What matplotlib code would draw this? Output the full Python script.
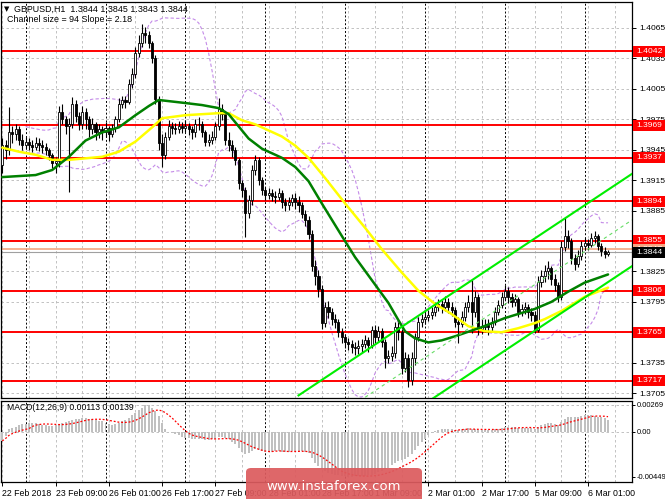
import numpy as np
import pandas as pd
import matplotlib
matplotlib.use("Agg")
import matplotlib.pyplot as plt
from matplotlib.patches import Rectangle, FancyBboxPatch
import matplotlib.transforms as mtransforms

# ---------------- data ----------------
first_open = 1.3930
closes = [
 1.3950,1.3945,1.3962,1.3960,1.3965,1.3955,1.3950,1.3953,1.3950,1.3948,
 1.3952,1.3950,1.3948,1.3945,1.3940,1.3932,1.3934,1.3982,1.3975,1.3968,
 1.3970,1.3990,1.3978,1.3970,1.3982,1.3975,1.3965,1.3970,1.3962,1.3965,
 1.3962,1.3966,1.3960,1.3966,1.3975,1.3990,1.3994,1.3992,1.4010,1.4020,
 1.4040,1.4050,1.4060,1.4058,1.4050,1.4035,1.3995,1.3952,1.3940,1.3958,
 1.3968,1.3966,1.3965,1.3968,1.3966,1.3968,1.3965,1.3962,1.3970,1.3970,
 1.3962,1.3953,1.3955,1.3958,1.3968,1.3985,1.3980,1.3955,1.3950,1.3945,
 1.3935,1.3912,1.3905,1.3883,1.3895,1.3925,1.3935,1.3915,1.3905,1.3900,
 1.3902,1.3899,1.3898,1.3902,1.3893,1.3890,1.3893,1.3897,1.3893,1.3890,
 1.3882,1.3876,1.3862,1.3830,1.3820,1.3808,1.3774,1.3790,1.3785,1.3778,
 1.3775,1.3765,1.3760,1.3755,1.3753,1.3750,1.3749,1.3751,1.3753,1.3757,
 1.3752,1.3767,1.3760,1.3766,1.3755,1.3740,1.3742,1.3745,1.3770,1.3765,
 1.3730,1.3740,1.3718,1.3740,1.3760,1.3775,1.3778,1.3780,1.3782,1.3785,
 1.3790,1.3793,1.3790,1.3795,1.3790,1.3787,1.3775,1.3773,1.3780,1.3790,
 1.3795,1.3785,1.3800,1.3768,1.3770,1.3772,1.3770,1.3775,1.3785,1.3792,
 1.3800,1.3806,1.3800,1.3795,1.3798,1.3785,1.3788,1.3790,1.3785,1.3782,
 1.3767,1.3815,1.3820,1.3825,1.3828,1.3818,1.3812,1.3800,1.3849,1.3860,
 1.3855,1.3838,1.3832,1.3840,1.3850,1.3853,1.3851,1.3858,1.3860,1.3850,
 1.3845,1.3842,1.3844]
highs = [
 1.3957,1.3955,1.3987,1.3968,1.3970,1.3968,1.3960,1.3958,1.3957,1.3955,
 1.3958,1.3957,1.3955,1.3952,1.3947,1.3942,1.3938,1.3988,1.3990,1.3978,
 1.3976,1.3997,1.3994,1.3982,1.3988,1.3986,1.3978,1.3976,1.3972,1.3970,
 1.3968,1.3972,1.3968,1.3970,1.3978,1.3996,1.3998,1.3998,1.4015,1.4026,
 1.4046,1.4058,1.4069,1.4066,1.4062,1.4052,1.4038,1.3998,1.3960,1.3962,
 1.3974,1.3972,1.3971,1.3973,1.3972,1.3974,1.3971,1.3968,1.3975,1.3977,
 1.3973,1.3964,1.3960,1.3963,1.3972,1.3996,1.3990,1.3982,1.3962,1.3955,
 1.3948,1.3937,1.3915,1.3908,1.3900,1.3930,1.3940,1.3938,1.3918,1.3908,
 1.3907,1.3906,1.3904,1.3907,1.3905,1.3897,1.3898,1.3901,1.3902,1.3899,
 1.3893,1.3886,1.3880,1.3866,1.3836,1.3826,1.3812,1.3795,1.3796,1.3789,
 1.3783,1.3778,1.3769,1.3763,1.3759,1.3757,1.3755,1.3757,1.3758,1.3762,
 1.3760,1.3771,1.3772,1.3771,1.3769,1.3758,1.3748,1.3751,1.3775,1.3775,
 1.3768,1.3746,1.3744,1.3746,1.3764,1.3780,1.3783,1.3786,1.3787,1.3790,
 1.3795,1.3798,1.3797,1.3801,1.3799,1.3795,1.3790,1.3780,1.3786,1.3795,
 1.3802,1.3817,1.3806,1.3803,1.3778,1.3778,1.3778,1.3780,1.3790,1.3797,
 1.3805,1.3812,1.3810,1.3804,1.3803,1.3800,1.3793,1.3795,1.3793,1.3789,
 1.3786,1.3820,1.3826,1.3831,1.3835,1.3830,1.3822,1.3815,1.3855,1.3878,
 1.3866,1.3858,1.3842,1.3846,1.3855,1.3858,1.3857,1.3863,1.3865,1.3862,
 1.3853,1.3849,1.3846]
lows = [
 1.3922,1.3936,1.3940,1.3952,1.3955,1.3950,1.3945,1.3946,1.3945,1.3943,
 1.3945,1.3944,1.3942,1.3940,1.3935,1.3927,1.3922,1.3928,1.3970,1.3960,
 1.3903,1.3966,1.3972,1.3964,1.3965,1.3965,1.3958,1.3960,1.3955,1.3957,
 1.3955,1.3958,1.3954,1.3958,1.3962,1.3972,1.3986,1.3986,1.3990,1.4006,
 1.4016,1.4036,1.4046,1.4050,1.4045,1.4030,1.3990,1.3945,1.3928,1.3936,
 1.3955,1.3960,1.3960,1.3961,1.3961,1.3962,1.3959,1.3956,1.3958,1.3964,
 1.3958,1.3949,1.3949,1.3951,1.3955,1.3964,1.3974,1.3950,1.3944,1.3938,
 1.3930,1.3906,1.3898,1.3859,1.3878,1.3890,1.3920,1.3910,1.3900,1.3895,
 1.3896,1.3894,1.3892,1.3895,1.3888,1.3885,1.3886,1.3889,1.3887,1.3884,
 1.3878,1.3870,1.3857,1.3825,1.3812,1.3800,1.3768,1.3770,1.3779,1.3772,
 1.3769,1.3760,1.3754,1.3749,1.3748,1.3745,1.3743,1.3744,1.3746,1.3749,
 1.3746,1.3749,1.3754,1.3756,1.3750,1.3730,1.3735,1.3737,1.3740,1.3757,
 1.3724,1.3726,1.3711,1.3713,1.3733,1.3756,1.3770,1.3773,1.3776,1.3778,
 1.3781,1.3786,1.3784,1.3786,1.3784,1.3781,1.3770,1.3754,1.3770,1.3776,
 1.3785,1.3764,1.3780,1.3762,1.3763,1.3765,1.3762,1.3765,1.3772,1.3782,
 1.3789,1.3797,1.3794,1.3790,1.3791,1.3780,1.3781,1.3783,1.3779,1.3776,
 1.3764,1.3765,1.3810,1.3815,1.3818,1.3812,1.3806,1.3795,1.3797,1.3845,
 1.3848,1.3832,1.3826,1.3829,1.3836,1.3846,1.3846,1.3849,1.3853,1.3846,
 1.3840,1.3838,1.3840]

# moving averages read at selected bars (bar index, price)
green_ma_idx = [0,10,15,20,25,30,35,40,44,47,55,60,65,68,71,74,78,84,88,92,96,
                102,106,112,116,119,121,124,128,132,136,144,151,160,165,170,175,182]
green_ma_val = [1.3918,1.3920,1.3925,1.3938,1.3954,1.3962,1.3967,1.3979,1.3988,1.3994,
                1.3991,1.3989,1.3986,1.3980,1.3968,1.3956,1.3946,1.3937,1.3928,1.3914,
                1.3892,1.3860,1.3839,1.3812,1.3794,1.3777,1.3766,1.3759,1.3755,1.3757,
                1.3761,1.3770,1.3779,1.3788,1.3795,1.3805,1.3814,1.3822]
yellow_ma_idx = [0,5,10,15,20,30,35,40,45,48,55,65,68,72,76,80,84,88,92,97,103,
                 109,114,120,125,130,135,140,145,150,155,160,163,168,175,182]
yellow_ma_val = [1.3947,1.3943,1.3940,1.3935,1.3935,1.3938,1.3943,1.3953,1.3967,1.3976,
                 1.3979,1.3981,1.3981,1.3974,1.3970,1.3964,1.3958,1.3949,1.3937,1.3917,
                 1.3892,1.3868,1.3847,1.3824,1.3806,1.3793,1.3783,1.3771,1.3766,1.3765,
                 1.3769,1.3774,1.3778,1.3786,1.3800,1.3809]

# MACD main (histogram), units of 1e-5
macd_hist = [
 -93,-43,23,33,47,63,73,80,90,90,83,76,70,63,57,57,63,73,90,100,
 106,116,123,130,133,133,130,123,116,110,103,90,73,70,73,90,103,116,136,163,
 189,216,236,262,269,239,206,156,90,23,-3,-17,-27,-37,-50,-60,-66,-70,-70,-70,
 -76,-83,-83,-76,-70,-57,-50,-60,-76,-103,-126,-160,-203,-226,-216,-193,-176,-183,-193,-199,
 -203,-203,-196,-193,-199,-203,-203,-196,-193,-193,-196,-203,-216,-259,-309,-342,-370,-395,-410,-420,
 -430,-438,-444,-447,-449,-449,-448,-446,-443,-440,-437,-432,-422,-408,-390,-372,-359,-336,-316,-293,
 -283,-269,-253,-226,-183,-143,-103,-70,-37,-10,3,13,23,30,30,23,17,13,23,30,
 33,30,23,13,13,17,17,17,23,30,37,43,50,50,47,40,37,33,33,33,
 23,43,63,76,83,83,76,63,96,123,143,150,150,150,156,163,163,163,156,150,
 143,136,113]

levels = [1.4042, 1.3969, 1.3937, 1.3894, 1.3855, 1.3806, 1.3765, 1.3717]
bid_price = 1.3844
ask_price = 1.3847
price_ticks = [1.4065, 1.4035, 1.4005, 1.3975, 1.3945, 1.3915, 1.3885,
               1.3855, 1.3825, 1.3795, 1.3765, 1.3735, 1.3705]
macd_ticks = [0.00269, 0.0, -0.00449]
macd_tick_labels = ["0.00269", "0.00", "-0.00449"]
time_tick_idx = [0, 16, 32, 48, 64, 80, 96, 112, 128, 144, 160, 176]
time_tick_labels = ["22 Feb 2018", "23 Feb 09:00", "26 Feb 01:00", "26 Feb 17:00",
                    "27 Feb 09:00", "28 Feb 01:00", "28 Feb 17:00", "1 Mar 09:00",
                    "2 Mar 01:00", "2 Mar 17:00", "5 Mar 09:00", "6 Mar 01:00"]
day_sep_idx = [7, 31, 55, 79, 103, 127, 151, 175]

channel_bars = 94
channel_slope = 2.18      # pips per bar
channel_mid_last = 1.3860
channel_half = 0.00455

title_text = "GBPUSD,H1  1.3844 1.3845 1.3843 1.3844"
channel_text = "Channel size = 94 Slope = 2.18"
macd_text = "MACD(12,26,9) 0.00113 0.00139"

SMALL = "Liberation Sans"

# ---------------- figure ----------------
W, H = 665, 499
fig = plt.figure(figsize=(W / 100, H / 100), dpi=100)
fig.patch.set_facecolor("white")

def fx(px):
    return px / W

def fy(py):
    return 1 - py / H

ax = fig.add_axes([fx(1), fy(398), fx(632) - fx(1), fy(2) - fy(398)])
axm = fig.add_axes([fx(1), fy(482), fx(632) - fx(1), fy(401) - fy(482)])

n = len(closes)
idx = np.arange(n)
c = np.array(closes)
o = np.concatenate([[first_open], c[:-1]])
hi = np.array(highs)
lo = np.array(lows)
x_max = 189.2

for a in (ax, axm):
    a.set_xlim(-0.4, x_max)
    for s in a.spines.values():
        s.set_color("black")
        s.set_linewidth(0.9)

ax.set_ylim(1.37002, 1.40906)
axm.set_ylim(-0.00504, 0.00306)

# grids
grid_kw = dict(color="#b8b8b8", lw=0.6, ls=(0, (3, 3)), zorder=1)
for a in (ax, axm):
    for gi in range(0, 190, 8):
        a.axvline(gi, **grid_kw)
    for di in day_sep_idx:
        a.axvline(di, color="black", lw=0.7, ls=(0, (2, 2)), zorder=1.2)
for p in price_ticks:
    ax.axhline(p, **grid_kw)
axm.axhline(0.0, **grid_kw)
axm.axhline(0.00269, **grid_kw)

# Bollinger bands from closes
s = pd.Series(c)
bb_mid = s.rolling(20, min_periods=8).mean()
bb_sd = s.rolling(20, min_periods=8).std(ddof=0)
ax.plot(idx, bb_mid + 2 * bb_sd, color="#c48be8", lw=0.8, ls=(0, (3, 2)), zorder=2)
ax.plot(idx, bb_mid - 2 * bb_sd, color="#c48be8", lw=0.8, ls=(0, (3, 2)), zorder=2)

# level lines
for lv in levels:
    ax.axhline(lv, color="#ff0000", lw=1.4, zorder=2.5)
ax.axhline(ask_price, color="#f4a582", lw=1.2, zorder=2.4)
ax.axhline(bid_price, color="#a0a0a0", lw=0.8, zorder=2.4)

# candles
ax.vlines(idx, lo, hi, color="black", lw=0.8, zorder=3)
up = c >= o
body_h = np.maximum(np.abs(c - o), 0.00002)
body_b = np.minimum(o, c)
ax.bar(idx[up], body_h[up], bottom=body_b[up], width=0.62, color="white",
       edgecolor="black", lw=0.6, zorder=3.1)
ax.bar(idx[~up], body_h[~up], bottom=body_b[~up], width=0.62, color="black",
       edgecolor="black", lw=0.6, zorder=3.1)

# moving averages
ax.plot(yellow_ma_idx, yellow_ma_val, color="#ffff00", lw=1.8, zorder=4,
        solid_capstyle="round", solid_joinstyle="round")
ax.plot(green_ma_idx, green_ma_val, color="#008000", lw=1.8, zorder=4.1,
        solid_capstyle="round", solid_joinstyle="round")

# regression channel
last = n - 1
xs = np.array([n - channel_bars, x_max])
mid = channel_mid_last + channel_slope * 0.0001 * (xs - last)
ax.plot(xs, mid + channel_half, color="#00ee00", lw=1.5, zorder=4.5)
ax.plot(xs, mid - channel_half, color="#00ee00", lw=1.5, zorder=4.5)
ax.plot(xs, mid, color="#66dd66", lw=0.8, ls=(0, (3, 3)), zorder=4.5)

# price axis
ax.yaxis.tick_right()
ax.set_yticks(price_ticks)
ax.set_yticklabels(["%.4f" % p for p in price_ticks], family=SMALL)
ax.tick_params(axis="y", length=3, width=0.7, labelsize=6.1, pad=2, colors="black")
ax.set_xticks([])

trans = mtransforms.blended_transform_factory(ax.transAxes, ax.transData)
box_w = 33 / 631
box_h = 11 / 10143
def label_box(price, fc, tc, z):
    ax.add_patch(Rectangle((1.0015, price - box_h / 2), box_w, box_h, transform=trans,
                           facecolor=fc, edgecolor="none", clip_on=False, zorder=z))
    ax.text(1.0015 + 3 / 631, price, "%.4f" % price, transform=trans, color=tc,
            fontsize=6.1, family=SMALL, va="center", ha="left", clip_on=False,
            zorder=z + 0.1)

for lv in levels:
    label_box(lv, "#ff0000", "white", 10)
label_box(ask_price, "#f4a582", "white", 10.5)
label_box(bid_price, "black", "white", 11)

# MACD
axm.bar(idx, np.array(macd_hist) * 1e-5, width=0.6, color="#c0c0c0", zorder=3)
signal = pd.Series(np.array(macd_hist) * 1e-5).rolling(9, min_periods=1).mean()
axm.plot(idx, signal, color="#ff0000", lw=0.9, ls=(0, (1.5, 1.5)), zorder=4)
axm.yaxis.tick_right()
axm.set_yticks(macd_ticks)
axm.set_yticklabels(macd_tick_labels, family=SMALL)
axm.tick_params(axis="y", length=2.5, width=0.7, labelsize=5.4, pad=1)
axm.set_xticks(time_tick_idx)
axm.set_xticklabels(time_tick_labels, ha="left", family=SMALL)
axm.tick_params(axis="x", length=3, width=0.7, labelsize=6.3, pad=2)

# texts
fig.text(fx(4), fy(9), "\u25BC", fontsize=5, va="center", ha="left")
fig.text(fx(14), fy(9), title_text, fontsize=6.4, family=SMALL, va="center", ha="left")
fig.text(fx(7), fy(19.5), channel_text, fontsize=6.4, family=SMALL, va="center", ha="left")
fig.text(fx(7), fy(408), macd_text, fontsize=6.2, family=SMALL, va="center", ha="left")

# watermark
wm = FancyBboxPatch((fx(246), fy(503)), fx(422) - fx(246), fy(468) - fy(503),
                    boxstyle="round,pad=0,rounding_size=0.008",
                    transform=fig.transFigure, facecolor="#dc5b5e", edgecolor="none",
                    alpha=0.93, zorder=20)
fig.patches.append(wm)
fig.text(fx(334), fy(487), "www.instaforex.com", fontsize=9.5, color="white",
         ha="center", va="center", zorder=21)

fig.savefig("out.png", dpi=100)
